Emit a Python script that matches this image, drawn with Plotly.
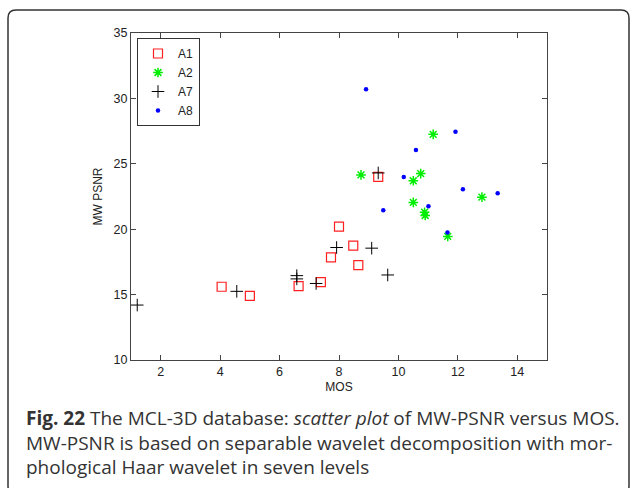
import plotly.graph_objects as go

# Data
a1_mos = [4.05, 5.0, 6.64, 7.39, 7.73, 8.0, 8.48, 8.65, 9.32]
a1_psnr = [15.6, 14.9, 15.65, 15.95, 17.85, 20.2, 18.75, 17.25, 24.0]

a2_mos = [8.74, 10.75, 10.5, 10.5, 10.88, 10.9, 11.66, 12.81, 11.17]
a2_psnr = [24.15, 24.25, 23.7, 22.05, 21.3, 21.05, 19.45, 22.45, 27.25]

a7_mos = [1.21, 4.56, 6.58, 6.58, 7.23, 7.92, 9.1, 9.64, 9.32]
a7_psnr = [14.2, 15.25, 16.45, 16.2, 15.85, 18.6, 18.55, 16.5, 24.3]

a8_mos = [8.91, 11.92, 10.59, 10.18, 12.17, 13.34, 9.49, 11.01, 11.65]
a8_psnr = [30.7, 27.45, 26.05, 24.0, 23.05, 22.75, 21.45, 21.75, 19.75]

x_ticks = [2, 4, 6, 8, 10, 12, 14]
y_ticks = [10, 15, 20, 25, 30, 35]

AX_FONT = "Arial, Liberation Sans, sans-serif"

fig = go.Figure()
fig.add_trace(go.Scatter(x=a1_mos, y=a1_psnr, mode="markers", name="A1",
                         marker=dict(symbol="square-open", size=9, color="#ff2020", line=dict(width=1.2))))
fig.add_trace(go.Scatter(x=a2_mos, y=a2_psnr, mode="markers", name="A2",
                         marker=dict(symbol="asterisk-open", size=8, color="#00ee00", line=dict(width=1.5, color="#00ee00"))))
fig.add_trace(go.Scatter(x=a7_mos, y=a7_psnr, mode="markers", name="A7",
                         marker=dict(symbol="cross-thin-open", size=9, color="#000000", line=dict(width=1.0, color="#000000"))))
fig.add_trace(go.Scatter(x=a8_mos, y=a8_psnr, mode="markers", name="A8",
                         marker=dict(symbol="circle", size=4.5, color="#0000ff")))

# Plot area in pixels: left 131, right 547, top 33, bottom 360
L, R, T, B = 131, 547, 33, 360
W, H = R - L, B - T

def px(x):
    return (x - L) / W

def py(y):
    return (B - y) / H

# Rounded frame around figure
x0, y0, x1, y1, r = 8, 10, 629, 494, 8
path = (f"M {px(x0)},{py(y0 + r)} Q {px(x0)},{py(y0)} {px(x0 + r)},{py(y0)} "
        f"L {px(x1 - r)},{py(y0)} Q {px(x1)},{py(y0)} {px(x1)},{py(y0 + r)} "
        f"L {px(x1)},{py(y1 - r)} Q {px(x1)},{py(y1)} {px(x1 - r)},{py(y1)} "
        f"L {px(x0 + r)},{py(y1)} Q {px(x0)},{py(y1)} {px(x0)},{py(y1 - r)} Z")
fig.add_shape(type="path", path=path, xref="paper", yref="paper",
              line=dict(color="#333333", width=1.5), layer="below")

caption = ("<b>Fig. 22</b> The MCL-3D database: <i>scatter plot</i> of MW-PSNR versus MOS.<br>"
           "MW-PSNR is based on separable wavelet decomposition with mor-<br>"
           "phological Haar wavelet in seven levels")
fig.add_annotation(text=caption, xref="paper", yref="paper", x=px(24), y=py(403),
                   xanchor="left", yanchor="top", align="left", showarrow=False,
                   font=dict(family="Open Sans", size=19, color="#333333"))

axis_common = dict(showline=True, linecolor="#444444", linewidth=1, mirror="ticks",
                   ticks="inside", ticklen=5, tickcolor="#444444", showgrid=False,
                   zeroline=False, tickfont=dict(family=AX_FONT, size=12.5, color="#222222"))

fig.update_xaxes(range=[1, 15], tickvals=x_ticks, title=dict(text="MOS", standoff=4,
                 font=dict(family=AX_FONT, size=12, color="#222222")), **axis_common)
fig.update_yaxes(range=[10, 35], tickvals=y_ticks, title=dict(text="MW PSNR", standoff=8,
                 font=dict(family=AX_FONT, size=12, color="#222222")), **axis_common)

fig.update_layout(
    width=630, height=488,
    margin=dict(l=L, r=630 - R, t=T, b=488 - B),
    paper_bgcolor="white", plot_bgcolor="white",
    showlegend=True,
    legend=dict(x=px(137), y=py(38), xanchor="left", yanchor="top",
                bordercolor="#333333", borderwidth=1, bgcolor="white",
                font=dict(family=AX_FONT, size=12, color="#222222"),
                itemwidth=30, tracegroupgap=0),
)

fig.write_html("out.html")
